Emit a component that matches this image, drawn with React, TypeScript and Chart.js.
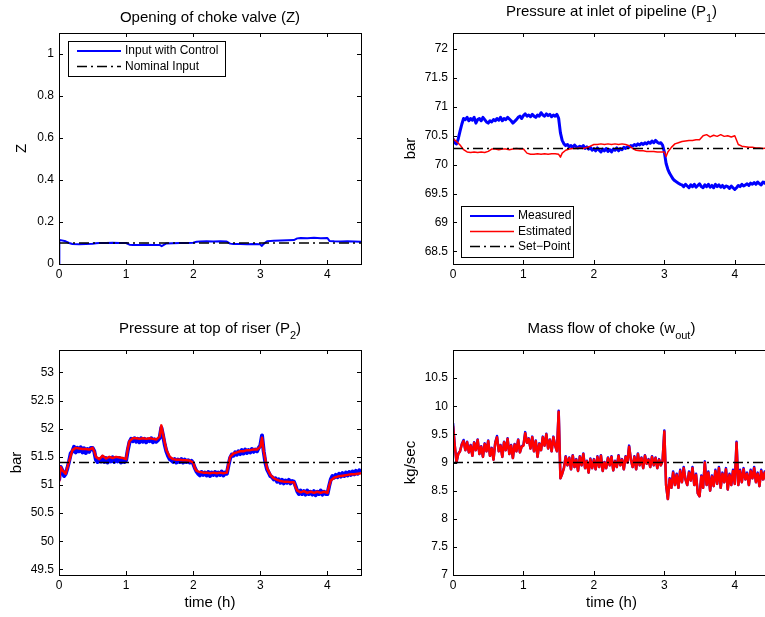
import React, { useEffect, useRef } from "react";
import { Chart, registerables } from "chart.js";

Chart.register(...registerables);

const FONT = "'Liberation Sans', Arial, Helvetica, sans-serif";
const BLUE = "#0000ff";
const RED = "#ff0000";
const BLACK = "#000000";
const DASHDOT = [10, 4, 2, 4];

// ---------- axes ----------
const X_TICKS = [0, 1, 2, 3, 4];
const Z_TICKS = [0, 0.2, 0.4, 0.6, 0.8, 1];
const P1_TICKS = [68.5, 69, 69.5, 70, 70.5, 71, 71.5, 72];
const P2_TICKS = [49.5, 50, 50.5, 51, 51.5, 52, 52.5, 53];
const W_TICKS = [7, 7.5, 8, 8.5, 9, 9.5, 10, 10.5];

// ---------- time grids (h) ----------
const T_FINE = [
  0, 0.025, 0.05, 0.075, 0.1, 0.125, 0.15, 0.175, 0.2, 0.225, 0.25, 0.275, 0.3, 0.325, 0.35, 0.375, 0.4, 0.425, 0.45, 0.475,
  0.5, 0.525, 0.55, 0.575, 0.6, 0.625, 0.65, 0.675, 0.7, 0.725, 0.75, 0.775, 0.8, 0.825, 0.85, 0.875, 0.9, 0.925, 0.95, 0.975,
  1, 1.025, 1.05, 1.075, 1.1, 1.125, 1.15, 1.175, 1.2, 1.225, 1.25, 1.275, 1.3, 1.325, 1.35, 1.375, 1.4, 1.425, 1.45, 1.475,
  1.5, 1.525, 1.55, 1.575, 1.6, 1.625, 1.65, 1.675, 1.7, 1.725, 1.75, 1.775, 1.8, 1.825, 1.85, 1.875, 1.9, 1.925, 1.95, 1.975,
  2, 2.025, 2.05, 2.075, 2.1, 2.125, 2.15, 2.175, 2.2, 2.225, 2.25, 2.275, 2.3, 2.325, 2.35, 2.375, 2.4, 2.425, 2.45, 2.475,
  2.5, 2.525, 2.55, 2.575, 2.6, 2.625, 2.65, 2.675, 2.7, 2.725, 2.75, 2.775, 2.8, 2.825, 2.85, 2.875, 2.9, 2.925, 2.95, 2.975,
  3, 3.025, 3.05, 3.075, 3.1, 3.125, 3.15, 3.175, 3.2, 3.225, 3.25, 3.275, 3.3, 3.325, 3.35, 3.375, 3.4, 3.425, 3.45, 3.475,
  3.5, 3.525, 3.55, 3.575, 3.6, 3.625, 3.65, 3.675, 3.7, 3.725, 3.75, 3.775, 3.8, 3.825, 3.85, 3.875, 3.9, 3.925, 3.95, 3.975,
  4, 4.025, 4.05, 4.075, 4.1, 4.125, 4.15, 4.175, 4.2, 4.225, 4.25, 4.275, 4.3, 4.325, 4.35, 4.375, 4.4, 4.425, 4.45, 4.475,
  4.5,
];
const T_SP = [0, 4.5];

// ---------- Opening of choke valve ----------
const T_Z = [
  0, 0.005, 0.1, 0.15, 0.2, 0.3, 0.4, 0.5, 0.55, 0.6,
  0.7, 0.8, 0.9, 1, 1.05, 1.1, 1.2, 1.3, 1.4, 1.5,
  1.53, 1.6, 1.7, 1.8, 1.9, 2, 2.05, 2.1, 2.2, 2.3,
  2.4, 2.5, 2.55, 2.6, 2.7, 2.8, 2.9, 3, 3.02, 3.05,
  3.1, 3.2, 3.3, 3.4, 3.5, 3.55, 3.6, 3.7, 3.8, 3.9,
  4, 4.03, 4.1, 4.2, 4.3, 4.4, 4.5,
];
const Z_CONTROL = [
  0, 0.115, 0.108, 0.1, 0.095, 0.094, 0.095, 0.096, 0.099, 0.1,
  0.1, 0.101, 0.1, 0.1, 0.092, 0.091, 0.091, 0.092, 0.091, 0.091,
  0.085, 0.098, 0.099, 0.1, 0.1, 0.101, 0.106, 0.107, 0.108, 0.107,
  0.108, 0.107, 0.097, 0.095, 0.095, 0.094, 0.095, 0.094, 0.086, 0.096,
  0.108, 0.111, 0.112, 0.113, 0.114, 0.122, 0.124, 0.123, 0.125, 0.123,
  0.124, 0.11, 0.108, 0.107, 0.108, 0.107, 0.106,
];
const Z_NOMINAL = [0.1, 0.1];

// ---------- Pressure at inlet of pipeline ----------
const P1_MEASURED = [
  70.45, 70.38, 70.36, 70.45, 70.58, 70.7, 70.8, 70.78, 70.82, 70.76, 70.8, 70.77, 70.82, 70.72, 70.78, 70.8, 70.76, 70.82, 70.78, 70.74,
  70.72, 70.76, 70.74, 70.78, 70.76, 70.8, 70.77, 70.82, 70.76, 70.8, 70.78, 70.82, 70.79, 70.76, 70.72, 70.75, 70.78, 70.82, 70.84, 70.8,
  70.85, 70.88, 70.84, 70.86, 70.83, 70.87, 70.84, 70.82, 70.86, 70.84, 70.9, 70.86, 70.84, 70.88, 70.85, 70.87, 70.83, 70.86, 70.84, 70.87,
  70.8, 70.55, 70.42, 70.36, 70.33, 70.35, 70.31, 70.33, 70.3, 70.34, 70.31, 70.29, 70.32, 70.3, 70.33, 70.28, 70.31, 70.27, 70.3, 70.25,
  70.28, 70.24, 70.29, 70.25, 70.22, 70.27, 70.24, 70.28, 70.23, 70.26, 70.22, 70.27, 70.25, 70.29, 70.24, 70.28, 70.26, 70.3, 70.28, 70.31,
  70.3, 70.33, 70.32, 70.35, 70.33, 70.36, 70.34, 70.37, 70.35, 70.38, 70.36, 70.39, 70.37, 70.41, 70.38, 70.42, 70.39, 70.37, 70.38, 70.34,
  70.22, 70.02, 69.92, 69.85, 69.8, 69.75, 69.72, 69.7, 69.68, 69.66, 69.65, 69.62, 69.66, 69.63, 69.6, 69.65, 69.62, 69.66, 69.61, 69.64,
  69.67, 69.62, 69.6, 69.65, 69.62, 69.66, 69.61, 69.64, 69.6, 69.66, 69.62, 69.65, 69.61, 69.64, 69.6, 69.63, 69.62, 69.59, 69.63, 69.6,
  69.57, 69.6, 69.64, 69.62, 69.66, 69.63, 69.65, 69.67, 69.64, 69.68, 69.66, 69.69, 69.66, 69.7, 69.67, 69.65, 69.7, 69.68, 69.72, 69.68,
  69.7,
];
const T_P1_EST = [
  0, 0.05, 0.1, 0.15, 0.2, 0.25, 0.3, 0.35, 0.4, 0.45,
  0.5, 0.55, 0.6, 0.65, 0.7, 0.75, 0.8, 0.85, 0.9, 0.95,
  1, 1.05, 1.1, 1.15, 1.2, 1.25, 1.3, 1.35, 1.4, 1.45,
  1.5, 1.525, 1.55, 1.6, 1.65, 1.7, 1.75, 1.8, 1.85, 1.9, 1.95,
  2, 2.05, 2.1, 2.15, 2.2, 2.25, 2.3, 2.35, 2.4, 2.45,
  2.5, 2.55, 2.6, 2.65, 2.7, 2.75, 2.8, 2.85, 2.9, 2.95,
  3, 3.025, 3.05, 3.1, 3.15, 3.2, 3.25, 3.3, 3.35, 3.4, 3.45,
  3.5, 3.55, 3.6, 3.65, 3.7, 3.75, 3.8, 3.85, 3.9, 3.95,
  4, 4.05, 4.1, 4.15, 4.2, 4.25, 4.3, 4.35, 4.4, 4.45,
  4.5,
];
const P1_ESTIMATED = [
  70.45, 70.4, 70.34, 70.26, 70.22, 70.21, 70.22, 70.21, 70.22, 70.21,
  70.23, 70.27, 70.27, 70.26, 70.27, 70.27, 70.26, 70.27, 70.28, 70.27,
  70.27, 70.2, 70.18, 70.18, 70.19, 70.18, 70.19, 70.18, 70.19, 70.19,
  70.18, 70.13, 70.2, 70.25, 70.27, 70.28, 70.28, 70.29, 70.28, 70.3, 70.32,
  70.35, 70.35, 70.36, 70.35, 70.36, 70.35, 70.36, 70.35, 70.36, 70.35,
  70.33, 70.28, 70.25, 70.24, 70.24, 70.23, 70.23, 70.23, 70.22, 70.22,
  70.22, 70.14, 70.22, 70.3, 70.36, 70.38, 70.4, 70.41, 70.42, 70.42, 70.43,
  70.43, 70.5, 70.52, 70.48, 70.51, 70.49, 70.52, 70.49, 70.5, 70.48,
  70.5, 70.35, 70.32, 70.31, 70.3, 70.3, 70.29, 70.29, 70.28, 70.29,
  70.28,
];
const P1_SETPOINT = [70.28, 70.28];

// ---------- Pressure at top of riser ----------
const P2_MEASURED = [
  51.08, 51.32, 51.26, 51.16, 51.2, 51.3, 51.42, 51.56, 51.6, 51.68, 51.58, 51.66, 51.6, 51.67, 51.58, 51.65, 51.57, 51.64, 51.59, 51.66,
  51.66, 51.6, 51.45, 51.41, 51.46, 51.42, 51.5, 51.41, 51.48, 51.4, 51.47, 51.42, 51.49, 51.41, 51.47, 51.42, 51.48, 51.4, 51.46, 51.41,
  51.44, 51.62, 51.76, 51.82, 51.78, 51.83, 51.77, 51.82, 51.76, 51.83, 51.77, 51.82, 51.76, 51.81, 51.78, 51.83, 51.76, 51.81, 51.77, 51.8,
  51.84, 52.02, 51.88, 51.72, 51.6, 51.52, 51.46, 51.44, 51.41, 51.46, 51.4, 51.45, 51.41, 51.46, 51.4, 51.45, 51.41, 51.44, 51.4, 51.43,
  51.38, 51.3, 51.24, 51.2, 51.17, 51.23, 51.18, 51.22, 51.17, 51.23, 51.16, 51.22, 51.18, 51.23, 51.17, 51.22, 51.18, 51.24, 51.17, 51.22,
  51.2, 51.35, 51.48, 51.54, 51.52, 51.58, 51.54, 51.6, 51.55, 51.62, 51.56, 51.63, 51.57, 51.62, 51.58, 51.64, 51.59, 51.63, 51.6, 51.66,
  51.7, 51.88, 51.6, 51.4, 51.28, 51.22, 51.16, 51.14, 51.1, 51.12, 51.06, 51.1, 51.04, 51.09, 51.03, 51.08, 51.04, 51.09, 51.03, 51.07,
  51.06, 50.98, 50.89, 50.84, 50.9, 50.84, 50.89, 50.83, 50.9, 50.84, 50.88, 50.83, 50.89, 50.82, 50.88, 50.84, 50.9, 50.83, 50.88, 50.84,
  50.84, 50.98, 51.1, 51.16, 51.13, 51.18, 51.14, 51.2, 51.15, 51.21, 51.16, 51.22, 51.17, 51.23, 51.18, 51.24, 51.19, 51.25, 51.2, 51.26,
  51.23,
];
const T_P2_EST = [
  0, 0.025, 0.05, 0.1, 0.15, 0.2, 0.25, 0.3, 0.35, 0.4, 0.45,
  0.5, 0.525, 0.55, 0.6, 0.65, 0.7, 0.75, 0.8, 0.85, 0.9, 0.95,
  1, 1.025, 1.05, 1.1, 1.15, 1.2, 1.25, 1.3, 1.35, 1.4, 1.45,
  1.5, 1.525, 1.55, 1.6, 1.65, 1.7, 1.75, 1.8, 1.85, 1.9, 1.95,
  2, 2.025, 2.05, 2.1, 2.15, 2.2, 2.25, 2.3, 2.35, 2.4, 2.45,
  2.5, 2.525, 2.55, 2.6, 2.65, 2.7, 2.75, 2.8, 2.85, 2.9, 2.95,
  3, 3.025, 3.05, 3.1, 3.15, 3.2, 3.25, 3.3, 3.35, 3.4, 3.45,
  3.5, 3.525, 3.55, 3.6, 3.65, 3.7, 3.75, 3.8, 3.85, 3.9, 3.95,
  4, 4.025, 4.05, 4.1, 4.15, 4.2, 4.25, 4.3, 4.35, 4.4, 4.45,
  4.5,
];
const P2_ESTIMATED = [
  51.05, 51.32, 51.26, 51.2, 51.42, 51.62, 51.66, 51.65, 51.64, 51.64, 51.63,
  51.66, 51.6, 51.5, 51.46, 51.52, 51.47, 51.5, 51.48, 51.5, 51.49, 51.48,
  51.46, 51.65, 51.78, 51.83, 51.83, 51.82, 51.83, 51.82, 51.83, 51.82, 51.81,
  51.86, 52.06, 51.9, 51.62, 51.5, 51.46, 51.45, 51.45, 51.44, 51.44, 51.43,
  51.4, 51.3, 51.25, 51.23, 51.22, 51.22, 51.21, 51.22, 51.21, 51.22, 51.21,
  51.22, 51.36, 51.5, 51.56, 51.58, 51.6, 51.6, 51.62, 51.62, 51.63, 51.63,
  51.68, 51.84, 51.6, 51.3, 51.18, 51.12, 51.09, 51.07, 51.06, 51.06, 51.05,
  51.05, 50.96, 50.9, 50.87, 50.89, 50.86, 50.88, 50.86, 50.88, 50.86, 50.88,
  50.86, 50.98, 51.08, 51.13, 51.15, 51.16, 51.17, 51.18, 51.19, 51.19, 51.2,
  51.21,
];
const P2_SETPOINT = [51.4, 51.4];

// ---------- Mass flow of choke ----------
const W_MEASURED = [
  9.7, 9.3, 9.0, 9.16, 9.2, 9.33, 9.4, 9.22, 9.37, 9.18, 9.31, 9.12, 9.36, 9.22, 9.41, 9.15, 9.29, 9.1, 9.34, 9.2,
  9.39, 9.12, 9.26, 9.05, 9.36, 9.47, 9.2, 9.31, 9.1, 9.37, 9.22, 9.43, 9.15, 9.31, 9.08, 9.33, 9.2, 9.41, 9.18, 9.29,
  9.31, 9.54, 9.35, 9.43, 9.25, 9.46, 9.2, 9.39, 9.1, 9.34, 9.22, 9.46, 9.3, 9.51, 9.25, 9.41, 9.2, 9.46, 9.3, 9.2,
  9.92, 8.72, 8.8, 8.91, 9.11, 8.95, 9.09, 8.88, 9.13, 8.92, 9.06, 8.85, 9.11, 8.95, 9.16, 8.9, 9.03, 8.82, 9.07, 8.9,
  9.06, 8.88, 9.11, 8.92, 9.13, 8.85, 9.01, 8.9, 9.09, 8.95, 9.11, 8.86, 9.03, 8.92, 9.13, 8.95, 9.06, 8.88, 9.11, 9.0,
  9.3, 9.05, 8.92, 9.11, 8.88, 9.16, 8.95, 9.09, 8.9, 9.13, 8.98, 9.06, 8.92, 9.11, 8.95, 9.09, 8.9, 9.06, 8.95, 9.03,
  9.57, 8.6, 8.35, 8.72, 8.55, 8.84, 8.6, 8.8, 8.55, 8.87, 8.65, 8.92, 8.7, 8.6, 8.84, 8.68, 8.92, 8.6, 8.8, 8.45,
  8.4, 8.77, 8.55, 9.02, 8.6, 8.84, 8.5, 8.77, 8.58, 8.87, 8.62, 8.92, 8.55, 8.82, 8.65, 8.9, 8.52, 8.8, 8.6, 8.87,
  8.62, 9.37, 8.6, 8.87, 8.65, 8.9, 8.7, 8.82, 8.6, 8.87, 8.72, 8.92, 8.65, 8.82, 8.58, 8.87, 8.7, 8.84, 8.65, 8.8,
  8.72,
];
const W_ESTIMATED = [
  9.65, 9.3, 9.02, 9.15, 9.2, 9.32, 9.38, 9.22, 9.36, 9.18, 9.3, 9.12, 9.35, 9.22, 9.4, 9.15, 9.28, 9.1, 9.33, 9.2,
  9.38, 9.12, 9.25, 9.05, 9.35, 9.45, 9.2, 9.3, 9.1, 9.36, 9.22, 9.42, 9.15, 9.3, 9.08, 9.32, 9.2, 9.4, 9.18, 9.28,
  9.3, 9.52, 9.35, 9.42, 9.25, 9.45, 9.2, 9.38, 9.1, 9.33, 9.22, 9.45, 9.3, 9.5, 9.25, 9.4, 9.2, 9.45, 9.3, 9.2,
  9.9, 8.72, 8.8, 8.9, 9.1, 8.95, 9.08, 8.88, 9.12, 8.92, 9.05, 8.85, 9.1, 8.95, 9.15, 8.9, 9.02, 8.82, 9.06, 8.9,
  9.05, 8.88, 9.1, 8.92, 9.12, 8.85, 9.0, 8.9, 9.08, 8.95, 9.1, 8.86, 9.02, 8.92, 9.12, 8.95, 9.05, 8.88, 9.1, 9.0,
  9.28, 9.05, 8.92, 9.1, 8.88, 9.15, 8.95, 9.08, 8.9, 9.12, 8.98, 9.05, 8.92, 9.1, 8.95, 9.08, 8.9, 9.05, 8.95, 9.02,
  9.55, 8.6, 8.35, 8.7, 8.55, 8.82, 8.6, 8.78, 8.55, 8.85, 8.65, 8.9, 8.7, 8.6, 8.82, 8.68, 8.9, 8.6, 8.78, 8.45,
  8.4, 8.75, 8.55, 9.0, 8.6, 8.82, 8.5, 8.75, 8.58, 8.85, 8.62, 8.9, 8.55, 8.8, 8.65, 8.88, 8.52, 8.78, 8.6, 8.85,
  8.62, 9.35, 8.6, 8.85, 8.65, 8.88, 8.7, 8.8, 8.6, 8.85, 8.72, 8.9, 8.65, 8.8, 8.58, 8.85, 8.7, 8.82, 8.65, 8.78,
  8.7,
];
const W_SETPOINT = [9, 9];

// ---------- helpers ----------
type Pt = { x: number; y: number };
const zip = (t: number[], y: number[]): Pt[] => {
  const n = Math.min(t.length, y.length);
  const out: Pt[] = [];
  for (let i = 0; i < n; i++) out.push({ x: t[i], y: y[i] });
  return out;
};

const line = (label: string, data: Pt[], color: string, width: number, dash: number[], order: number) => ({
  label,
  data,
  borderColor: color,
  backgroundColor: color,
  borderWidth: width,
  borderDash: dash,
  borderJoinStyle: "round",
  borderCapStyle: "butt",
  pointRadius: 0,
  tension: 0,
  fill: false,
  order,
});

interface LegendRow { label: string; color: string; width: number; dash: number[] }
interface LegendSpec {
  x1: number; y1: number; x2: number; y2: number;
  rowY: number[]; lx1: number; lx2: number; tx: number;
  rows: LegendRow[];
}
interface PanelSpec {
  pos: { left: number; top: number; width: number; height: number };
  area: { l: number; t: number; r: number; b: number };
  yMin: number; yMax: number; yTicks: number[];
  title: string; sub?: string;
  yLabel: string; yLabelGap: number;
  xLabel?: string;
  datasets: any[];
  legend?: LegendSpec;
}

const PANELS: PanelSpec[] = [
  {
    pos: { left: 0, top: 0, width: 380, height: 290 },
    area: { l: 59, t: 33, r: 361, b: 264 },
    yMin: 0, yMax: 1.1, yTicks: Z_TICKS,
    title: "Opening of choke valve (Z)",
    yLabel: "Z", yLabelGap: 37,
    datasets: [
      line("Nominal Input", zip(T_SP, Z_NOMINAL), BLACK, 1.5, DASHDOT, 0),
      line("Input with Control", zip(T_Z, Z_CONTROL), BLUE, 2, [], 1),
    ],
    legend: {
      x1: 68, y1: 41, x2: 225, y2: 76, rowY: [51, 66.5], lx1: 77, lx2: 121, tx: 125,
      rows: [
        { label: "Input with Control", color: BLUE, width: 2, dash: [] },
        { label: "Nominal Input", color: BLACK, width: 1.5, dash: DASHDOT },
      ],
    },
  },
  {
    pos: { left: 385, top: 0, width: 400, height: 290 },
    area: { l: 68, t: 33, r: 385, b: 264 },
    yMin: 68.28, yMax: 72.28, yTicks: P1_TICKS,
    title: "Pressure at inlet of pipeline (P", sub: "1",
    yLabel: "bar", yLabelGap: 42,
    datasets: [
      line("Set-Point", zip(T_SP, P1_SETPOINT), BLACK, 1.5, DASHDOT, 0),
      line("Estimated", zip(T_P1_EST, P1_ESTIMATED), RED, 1.5, [], 1),
      line("Measured", zip(T_FINE, P1_MEASURED), BLUE, 3, [], 2),
    ],
    legend: {
      x1: 76, y1: 206, x2: 188, y2: 257, rowY: [216, 231.5, 246.5], lx1: 85, lx2: 129, tx: 133,
      rows: [
        { label: "Measured", color: BLUE, width: 2, dash: [] },
        { label: "Estimated", color: RED, width: 1.5, dash: [] },
        { label: "Set\u2212Point", color: BLACK, width: 1.5, dash: DASHDOT },
      ],
    },
  },
  {
    pos: { left: 0, top: 290, width: 380, height: 327 },
    area: { l: 59, t: 60, r: 361, b: 285 },
    yMin: 49.4, yMax: 53.4, yTicks: P2_TICKS,
    title: "Pressure at top of riser (P", sub: "2",
    yLabel: "bar", yLabelGap: 42,
    xLabel: "time (h)",
    datasets: [
      line("Set-Point", zip(T_SP, P2_SETPOINT), BLACK, 1.5, DASHDOT, 0),
      line("Estimated", zip(T_P2_EST, P2_ESTIMATED), RED, 2.5, [], 1),
      line("Measured", zip(T_FINE, P2_MEASURED), BLUE, 4, [], 2),
    ],
  },
  {
    pos: { left: 385, top: 290, width: 400, height: 327 },
    area: { l: 68, t: 60, r: 385, b: 285 },
    yMin: 7, yMax: 11, yTicks: W_TICKS,
    title: "Mass flow of choke (w", sub: "out",
    yLabel: "kg/sec", yLabelGap: 42,
    xLabel: "time (h)",
    datasets: [
      line("Set-Point", zip(T_SP, W_SETPOINT), BLACK, 1.5, DASHDOT, 0),
      line("Estimated", zip(T_FINE, W_ESTIMATED), RED, 2.5, [], 1),
      line("Measured", zip(T_FINE, W_MEASURED), BLUE, 2.5, [], 2),
    ],
  },
];

const makeDecor = (spec: PanelSpec) => ({
  id: "decor",
  afterDraw(chart: any) {
    const ctx: CanvasRenderingContext2D = chart.ctx;
    const a = chart.chartArea;
    const xs = chart.scales.x;
    const ys = chart.scales.y;
    ctx.save();
    ctx.setLineDash([]);
    ctx.strokeStyle = BLACK;
    ctx.lineWidth = 1;
    ctx.strokeRect(a.left + 0.5, a.top + 0.5, a.right - a.left, a.bottom - a.top);

    ctx.beginPath();
    for (const v of X_TICKS) {
      const px = Math.round(xs.getPixelForValue(v)) + 0.5;
      ctx.moveTo(px, a.bottom);
      ctx.lineTo(px, a.bottom - 4);
      ctx.moveTo(px, a.top);
      ctx.lineTo(px, a.top + 4);
    }
    for (const v of spec.yTicks) {
      const py = Math.round(ys.getPixelForValue(v)) + 0.5;
      ctx.moveTo(a.left, py);
      ctx.lineTo(a.left + 4, py);
      ctx.moveTo(a.right, py);
      ctx.lineTo(a.right - 4, py);
    }
    ctx.stroke();

    const mainFont = `15px ${FONT}`;
    const subFont = `11px ${FONT}`;
    const cx = (a.left + a.right) / 2;
    ctx.fillStyle = BLACK;
    ctx.textBaseline = "middle";
    if (!spec.sub) {
      ctx.font = mainFont;
      ctx.textAlign = "center";
      ctx.fillText(spec.title, cx, a.top - 15);
    } else {
      ctx.font = mainFont;
      const w1 = ctx.measureText(spec.title).width;
      const w3 = ctx.measureText(")").width;
      ctx.font = subFont;
      const w2 = ctx.measureText(spec.sub).width;
      let x = cx - (w1 + w2 + w3) / 2;
      const y = a.top - 21;
      ctx.textAlign = "left";
      ctx.font = mainFont;
      ctx.fillText(spec.title, x, y);
      x += w1;
      ctx.font = subFont;
      ctx.fillText(spec.sub, x, y + 6.5);
      x += w2;
      ctx.font = mainFont;
      ctx.fillText(")", x, y);
    }

    ctx.font = mainFont;
    ctx.textAlign = "center";
    if (spec.xLabel) ctx.fillText(spec.xLabel, cx, a.bottom + 28);
    ctx.save();
    ctx.translate(a.left - spec.yLabelGap, (a.top + a.bottom) / 2);
    ctx.rotate(-Math.PI / 2);
    ctx.fillText(spec.yLabel, 0, 0);
    ctx.restore();

    const lg = spec.legend;
    if (lg) {
      ctx.fillStyle = "#ffffff";
      ctx.fillRect(lg.x1, lg.y1, lg.x2 - lg.x1, lg.y2 - lg.y1);
      ctx.strokeStyle = BLACK;
      ctx.lineWidth = 1;
      ctx.strokeRect(lg.x1 + 0.5, lg.y1 + 0.5, lg.x2 - lg.x1, lg.y2 - lg.y1);
      ctx.font = `12px ${FONT}`;
      ctx.textAlign = "left";
      lg.rows.forEach((r, i) => {
        const y = lg.rowY[i];
        ctx.beginPath();
        ctx.strokeStyle = r.color;
        ctx.lineWidth = r.width;
        ctx.setLineDash(r.dash);
        ctx.moveTo(lg.lx1, y);
        ctx.lineTo(lg.lx2, y);
        ctx.stroke();
        ctx.setLineDash([]);
        ctx.fillStyle = BLACK;
        ctx.fillText(r.label, lg.tx, y);
      });
    }
    ctx.restore();
  },
});

export default function App() {
  const refs = useRef<(HTMLCanvasElement | null)[]>([]);

  useEffect(() => {
    Chart.defaults.font.family = FONT;
    const charts = PANELS.map((spec, i) => {
      const canvas = refs.current[i]!;
      const tickFont = { family: FONT, size: 12 };
      return new Chart(canvas, {
        type: "line",
        data: { datasets: spec.datasets },
        options: {
          animation: false,
          responsive: false,
          events: [],
          layout: { padding: { left: 0, top: spec.area.t, right: spec.pos.width - spec.area.r, bottom: 0 } },
          plugins: { legend: { display: false }, tooltip: { enabled: false }, title: { display: false } },
          scales: {
            x: {
              type: "linear",
              min: 0,
              max: 4.5,
              afterBuildTicks: (s: any) => { s.ticks = X_TICKS.map((v) => ({ value: v })); },
              afterFit: (s: any) => { s.height = spec.pos.height - spec.area.b; },
              grid: { display: false, drawTicks: false },
              border: { display: false },
              ticks: { font: tickFont, color: BLACK, padding: 3, maxRotation: 0, autoSkip: false, callback: (v: any) => String(v) },
            },
            y: {
              type: "linear",
              min: spec.yMin,
              max: spec.yMax,
              afterBuildTicks: (s: any) => { s.ticks = spec.yTicks.map((v) => ({ value: v })); },
              afterFit: (s: any) => { s.width = spec.area.l; },
              grid: { display: false, drawTicks: false },
              border: { display: false },
              ticks: { font: tickFont, color: BLACK, padding: 5, autoSkip: false, callback: (v: any) => String(v) },
            },
          },
        } as any,
        plugins: [makeDecor(spec)],
      });
    });
    return () => charts.forEach((c) => c.destroy());
  }, []);

  return (
    <div style={{ position: "fixed", left: 0, top: 0, width: 765, height: 617, overflow: "hidden", background: "#ffffff" }}>
      {PANELS.map((s, i) => (
        <canvas
          key={i}
          ref={(el) => { refs.current[i] = el; }}
          width={s.pos.width}
          height={s.pos.height}
          style={{ position: "absolute", left: s.pos.left, top: s.pos.top, width: s.pos.width, height: s.pos.height }}
        />
      ))}
    </div>
  );
}
